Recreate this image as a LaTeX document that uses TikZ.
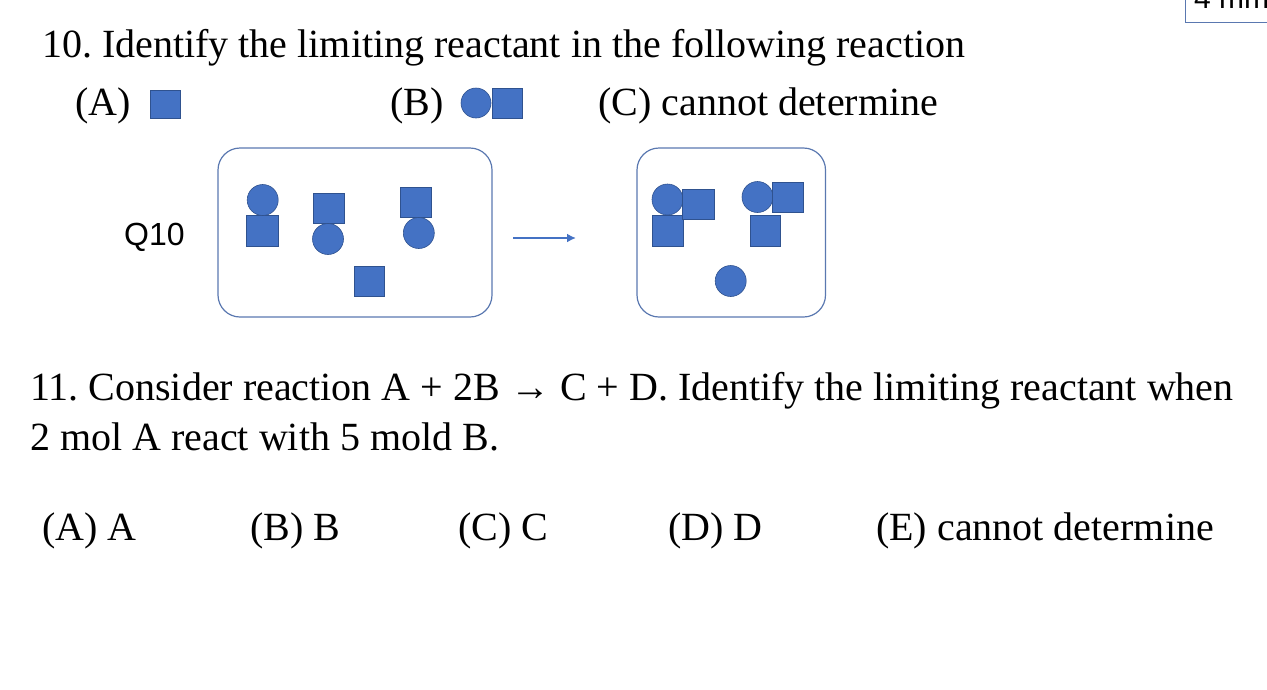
\documentclass[tikz,border=0pt]{standalone}
\usepackage{fontspec}
\usetikzlibrary{arrows.meta}
\setmainfont{Liberation Serif}
\newfontfamily\qsans{Liberation Sans}
\definecolor{bfill}{HTML}{4472C4}
\definecolor{bline}{HTML}{2F528F}
\definecolor{boxline}{HTML}{5A78B0}
\frenchspacing
\begin{document}
\begin{tikzpicture}[x=1pt,y=-1pt,
  txt/.style={anchor=base west,inner sep=0pt,font=\fontsize{40}{44}\selectfont},
  sq/.style={fill=bfill,draw=bline,line width=0.6pt},
  cir/.style={fill=bfill,draw=bline,line width=0.6pt},
  panel/.style={draw=boxline,line width=1.2pt,rounded corners=22pt}]
\useasboundingbox (0,0) rectangle (1267,689);
\begin{scope}
\clip (0,0) rectangle (1267,689);
\draw[boxline,line width=1pt] (1185,-10) rectangle (1290,22);
\node[anchor=base west,inner sep=0pt,font=\qsans\fontsize{30}{32}\selectfont] (mm) at (1194,8) {4 mm};
\end{scope}
\node[txt] (q10) at (42,57) {10. Identify the limiting reactant in the following reaction};
\node[txt] (a) at (75,115) {(A)};
\draw[sq] (150,90) rectangle (180,118);
\node[txt] (b) at (390,115) {(B)};
\draw[cir] (476,103) circle (15);
\draw[sq] (492,88) rectangle (522,118);
\node[txt] (c) at (598,115) {(C) cannot determine};
\node[anchor=base west,inner sep=0pt,font=\qsans\fontsize{32}{34}\selectfont] (lab) at (124,245) {Q10};
% left panel
\draw[panel] (218,148) rectangle (492,317);
\draw[sq] (246.5,215.5) rectangle (278,246.5);
\draw[cir] (262.7,200) circle (15.5);
\draw[sq] (313,193) rectangle (344,223);
\draw[cir] (328,239) circle (15.5);
\draw[sq] (400,187) rectangle (431.5,217);
\draw[cir] (418.8,233) circle (15.5);
\draw[sq] (354,266) rectangle (384,296.5);
% arrow
\coordinate (s) at (513,238);
\coordinate (e) at (576,238);
\draw[bfill,line width=2pt,-{Latex[length=9pt,width=9pt]}] (s) -- (e);
% right panel
\draw[panel] (637,148) rectangle (825.5,317);
\draw[sq] (652,215.5) rectangle (683,246.5);
\draw[cir] (667.5,199.5) circle (15.5);
\draw[sq] (682,189) rectangle (714,219);
\draw[sq] (750.5,215.5) rectangle (780,246.5);
\draw[cir] (757.5,197) circle (15.5);
\draw[sq] (772,182) rectangle (803,212);
\draw[cir] (730.7,281) circle (15.5);
% Q11
\node[txt] (q11) at (30,400) {11. Consider reaction A + 2B → C + D. Identify the limiting reactant when};
\node[txt] (q11b) at (30,450) {2 mol A react with 5 mold B.};
\node[txt] (oa) at (42,540) {(A) A};
\node[txt] (ob) at (250,540) {(B) B};
\node[txt] (oc) at (458,540) {(C) C};
\node[txt] (od) at (668,540) {(D) D};
\node[txt] (oe) at (876,540) {(E) cannot determine};
\end{tikzpicture}
\end{document}
